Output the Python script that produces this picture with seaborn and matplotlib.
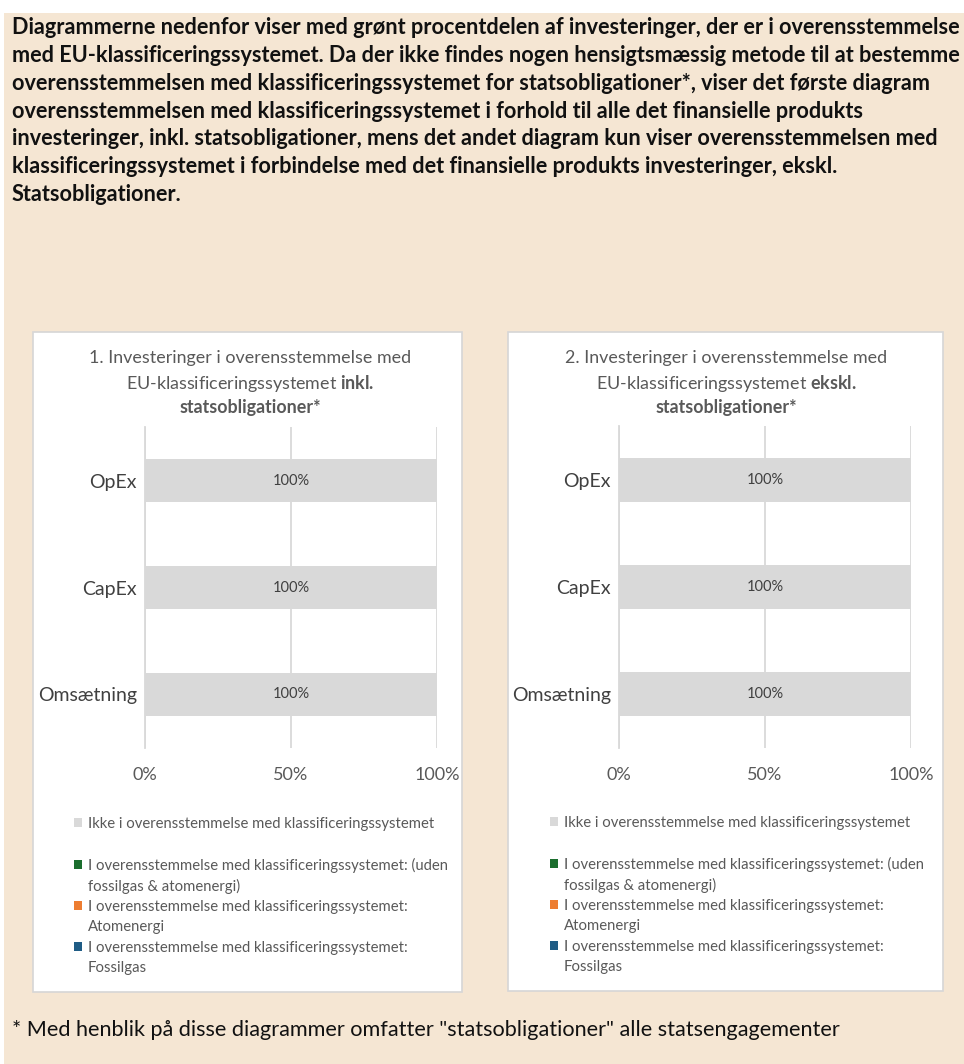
import matplotlib.pyplot as plt
import seaborn as sns
from matplotlib.patches import Rectangle, Patch
from matplotlib.ticker import PercentFormatter, FixedLocator

sns.set_style('white')
plt.rcParams['font.family'] = ['Lato', 'DejaVu Sans']
plt.rcParams['mathtext.fontset'] = 'custom'
plt.rcParams['mathtext.rm'] = 'Lato'
plt.rcParams['mathtext.bf'] = 'Lato:bold'

# data
kategorier = ['OpEx', 'CapEx', 'Omsætning']
ikke_inkl = [100, 100, 100]
ikke_ekskl = [100, 100, 100]
groen_inkl = [0, 0, 0]
groen_ekskl = [0, 0, 0]

serier = ['Ikke i overensstemmelse med klassificeringssystemet',
          'I overensstemmelse med klassificeringssystemet: (uden\nfossilgas & atomenergi)',
          'I overensstemmelse med klassificeringssystemet:\nAtomenergi',
          'I overensstemmelse med klassificeringssystemet:\nFossilgas']
farver = ['#d9d9d9', '#1b6e2e', '#ed7d31', '#1f5c85']

tekst = ['Diagrammerne nedenfor viser med grønt procentdelen af investeringer, der er i overensstemmelse',
         'med EU-klassificeringssystemet. Da der ikke findes nogen hensigtsmæssig metode til at bestemme',
         'overensstemmelsen med klassificeringssystemet for statsobligationer*, viser det første diagram',
         'overensstemmelsen med klassificeringssystemet i forhold til alle det finansielle produkts',
         'investeringer, inkl. statsobligationer, mens det andet diagram kun viser overensstemmelsen med',
         'klassificeringssystemet i forbindelse med det finansielle produkts investeringer, ekskl.',
         'Statsobligationer.']
fodnote = '* Med henblik på disse diagrammer omfatter "statsobligationer" alle statsengagementer'

W, H = 964, 1064
beige = '#f5e6d3'
fig = plt.figure(figsize=(W / 100, H / 100), dpi=100)
fig.patch.set_facecolor(beige)


def fx(x):
    return x / W


def fy(y):
    return 1 - y / H


# hvide kanter øverst og til venstre
fig.add_artist(Rectangle((0, fy(13)), 1, 13 / H, transform=fig.transFigure,
                         facecolor='white', edgecolor='none', zorder=0))
fig.add_artist(Rectangle((0, 0), 4 / W, 1, transform=fig.transFigure,
                         facecolor='white', edgecolor='none', zorder=0))

for i, linje in enumerate(tekst):
    fig.text(fx(12), fy(28 + i * 27.7), linje, fontsize=15.6, fontweight='bold',
             color='#111111', va='center', ha='left')
fig.text(fx(12), fy(1030), fodnote, fontsize=15.6, color='#111111', va='center', ha='left')

paneler = [
    dict(box=(33, 332, 462, 992), ax=(145, 427, 437, 748), cx=250, leg=(74, 817),
         vals=ikke_inkl, t2='EU-klassificeringssystemet $\\mathbf{inkl.}$', n='1'),
    dict(box=(508, 332, 943, 991), ax=(619, 426, 911, 748), cx=726, leg=(550, 816),
         vals=ikke_ekskl, t2='EU-klassificeringssystemet $\\mathbf{ekskl.}$', n='2'),
]

for p in paneler:
    x0, y0, x1, y1 = p['box']
    fig.add_artist(Rectangle((fx(x0), fy(y1)), (x1 - x0) / W, (y1 - y0) / H,
                             transform=fig.transFigure, facecolor='white',
                             edgecolor='#d6d6d6', lw=1.2, zorder=1))
    a0, b0, a1, b1 = p['ax']
    ax = fig.add_axes([fx(a0), fy(b1), (a1 - a0) / W, (b1 - b0) / H])
    ax.set_zorder(2)
    ax.patch.set_alpha(0)

    sns.barplot(x=p['vals'], y=kategorier, orient='h', color=farver[0],
                width=0.41, linewidth=0, saturation=1, ax=ax)
    ax.bar_label(ax.containers[0], fmt='{:.0f}%', label_type='center',
                 fontsize=10.5, color='#404040')

    ax.set_xlim(0, 100)
    ax.set_ylim(2.5, -0.5)
    ax.set_xticks([0, 50, 100])
    ax.xaxis.set_major_formatter(PercentFormatter(xmax=100, decimals=0))
    ax.yaxis.set_minor_locator(FixedLocator([-0.5, 0.5, 1.5, 2.5]))
    ax.tick_params(axis='x', length=0, pad=13.5, labelsize=13, labelcolor='#595959')
    ax.tick_params(axis='y', which='major', length=0, pad=6, labelsize=14,
                   labelcolor='#404040')
    ax.tick_params(axis='y', which='minor', length=5, width=1.2, color='#d9d9d9')
    ax.set_xlabel('')
    ax.set_ylabel('')
    ax.set_axisbelow(True)
    ax.xaxis.grid(True, color='#d9d9d9', lw=1.3)
    for s in ['top', 'right', 'bottom']:
        ax.spines[s].set_visible(False)
    ax.spines['left'].set_color('#d9d9d9')
    ax.spines['left'].set_linewidth(1.3)

    cx = p['cx']
    fig.text(fx(cx), fy(358), p['n'] + '. Investeringer i overensstemmelse med',
             fontsize=12.9, color='#595959', ha='center', va='center')
    fig.text(fx(cx), fy(383), p['t2'], fontsize=12.9, color='#595959', ha='center', va='center')
    fig.text(fx(cx), fy(407), 'statsobligationer*', fontsize=12.9, fontweight='bold',
             color='#595959', ha='center', va='center')

    # forklaring: én linje pr. post, firkant kun ved første linje
    handles, labels = [], []
    for i, (s, c) in enumerate(zip(serier, farver)):
        dele = s.split('\n')
        handles.append(Patch(facecolor=c, edgecolor='none'))
        labels.append(dele[0])
        for d in dele[1:]:
            handles.append(Patch(facecolor='none', edgecolor='none'))
            labels.append(d)
        if i == 0:
            handles.append(Patch(facecolor='none', edgecolor='none'))
            labels.append(' ')
    lx, ly = p['leg']
    fig.legend(handles, labels, loc='upper left', bbox_to_anchor=(fx(lx), fy(ly)),
               bbox_transform=fig.transFigure, frameon=False, fontsize=10.7,
               labelcolor='#595959', handlelength=0.55, handleheight=0.55,
               handletextpad=0.4, labelspacing=0.42, borderpad=0, borderaxespad=0)

fig.savefig('out.png', dpi=100, facecolor=fig.get_facecolor())
